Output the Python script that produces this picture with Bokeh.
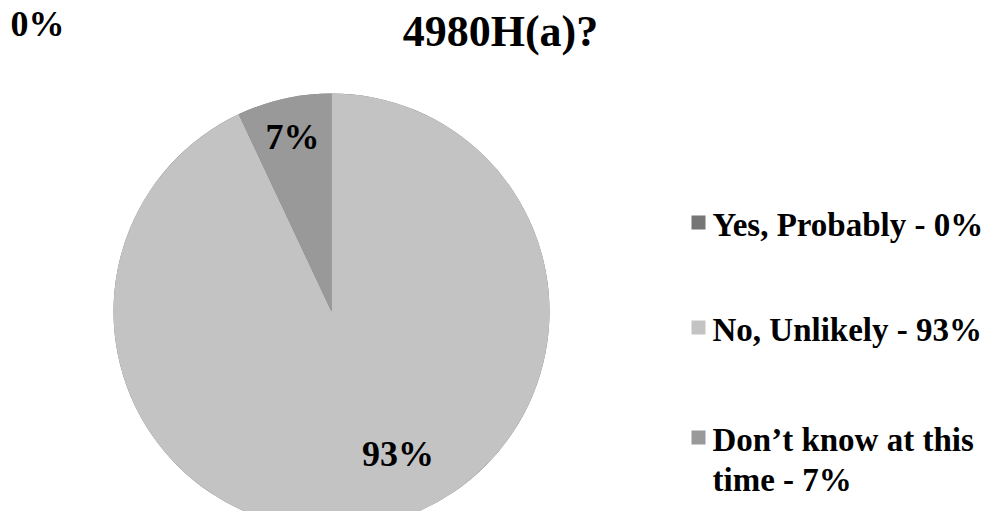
import math
from bokeh.plotting import figure
from bokeh.models import Range1d, ColumnDataSource
from bokeh.core.properties import value
from bokeh.embed import file_html
from bokeh.resources import INLINE

# ---- data ----
categories = ["Yes, Probably", "No, Unlikely", "Don\u2019t know at this time"]
shares = [0, 93, 7]
legend_lines = [["Yes, Probably - 0%"], ["No, Unlikely - 93%"], ["Don\u2019t know at this", "time - 7%"]]
title_text = "4980H(a)?"

# ---- style ----
colors = ["#767676", "#c3c3c3", "#999999"]
FONT = "Liberation Serif"
W, H = 1005, 527
MARGIN = 8
FW, FH = W - 2 * MARGIN, H - 2 * MARGIN

def py(y):  # pixel row (from top) -> data y
    return H - y

p = figure(width=FW, height=FH, output_backend="svg",
           toolbar_location=None, min_border=0,
           x_range=Range1d(0, FW), y_range=Range1d(H - FH, H))
p.axis.visible = False
p.grid.visible = False
p.outline_line_color = None
p.background_fill_color = "white"
p.border_fill_color = "white"

# pie geometry
cx, cy, R = 331, py(311), 218
total = float(sum(shares))
starts, ends, mids = [], [], []
cum = 0.0
for s in shares:
    a0 = math.pi / 2 - 2 * math.pi * cum / total
    cum += s
    a1 = math.pi / 2 - 2 * math.pi * cum / total
    starts.append(a0)
    ends.append(a1)
    mids.append((a0 + a1) / 2)

src = ColumnDataSource(dict(x=[cx] * len(shares), y=[cy] * len(shares),
                            start=starts, end=ends, color=colors))
p.wedge(x="x", y="y", radius=R, start_angle="start", end_angle="end",
        direction="clock", fill_color="color", line_color=None, source=src)

# data labels (inside slices)
label_r = [0.0, 0.72, 0.82]
label_shift = [0.0, math.radians(12.5), 0.0]
lx, ly, lt = [], [], []
for i, s in enumerate(shares):
    if s == 0:
        continue
    a = mids[i] + label_shift[i]
    lx.append(cx + label_r[i] * R * math.cos(a))
    ly.append(cy + label_r[i] * R * math.sin(a))
    lt.append(f"{s}%")
p.text(x=lx, y=ly, text=lt, text_font=value(FONT), text_font_style="bold",
       text_font_size="36px", text_color="black", text_align="center",
       text_baseline="middle")

# zero-slice label pushed to the corner
zero_idx = [i for i, s in enumerate(shares) if s == 0]
p.text(x=[10], y=[py(23)], text=[f"{shares[i]}%" for i in zero_idx][:1],
       text_font=value(FONT), text_font_style="bold", text_font_size="36px",
       text_color="black", text_align="left", text_baseline="middle")

# title (visible line)
p.text(x=[500], y=[py(31)], text=[title_text], text_font=value(FONT),
       text_font_style="bold", text_font_size="44px", text_color="black",
       text_align="center", text_baseline="middle")

# legend
leg_mid = [224, 329, 439]
line_gap = 40
for i, lines in enumerate(legend_lines):
    m = leg_mid[i]
    p.rect(x=[698], y=[py(m - 2)], width=14, height=14, fill_color=colors[i],
           line_color=None)
    p.text(x=[712] * len(lines), y=[py(m + k * line_gap) for k in range(len(lines))],
           text=lines, text_font=value(FONT), text_font_style="bold",
           text_font_size="33px", text_color="black", text_align="left",
           text_baseline="middle")

open("out.html", "w").write(file_html(p, INLINE))
